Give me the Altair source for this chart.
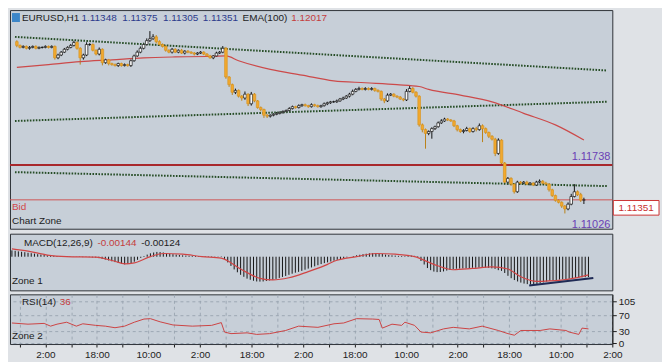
import json
import altair as alt
import pandas as pd

# ---------------- data ----------------
first_open = 1.13110
closes = [
    1.13068, 1.13046, 1.13057, 1.13036, 1.13046, 1.13057, 1.13036, 1.13046, 1.13046, 1.13057,
    1.13046, 1.13057, 1.12930, 1.12961, 1.12993, 1.13025, 1.13046, 1.13068, 1.13100, 1.13036,
    1.12930, 1.12961, 1.13078, 1.13078, 1.13014, 1.12972, 1.13025, 1.12876, 1.12908, 1.12866,
    1.12855, 1.12844, 1.12866, 1.12844, 1.12855, 1.12844, 1.12898, 1.12951, 1.12993, 1.13036,
    1.13078, 1.13121, 1.13142, 1.13163, 1.13110, 1.13078, 1.13057, 1.13014, 1.12993, 1.13025,
    1.12993, 1.13014, 1.12983, 1.13004, 1.12993, 1.12983, 1.12972, 1.12983, 1.12993, 1.12972,
    1.12951, 1.12930, 1.12951, 1.12983, 1.12993, 1.13036, 1.12717, 1.12632, 1.12547, 1.12568,
    1.12504, 1.12483, 1.12526, 1.12419, 1.12526, 1.12451, 1.12377, 1.12355, 1.12292, 1.12281,
    1.12292, 1.12302, 1.12313, 1.12324, 1.12334, 1.12345, 1.12366, 1.12387, 1.12377, 1.12398,
    1.12409, 1.12398, 1.12387, 1.12409, 1.12398, 1.12387, 1.12398, 1.12419, 1.12430, 1.12441,
    1.12441, 1.12451, 1.12472, 1.12483, 1.12504, 1.12526, 1.12557, 1.12579, 1.12589, 1.12579,
    1.12589, 1.12579, 1.12589, 1.12568, 1.12557, 1.12472, 1.12451, 1.12515, 1.12526, 1.12504,
    1.12494, 1.12472, 1.12462, 1.12557, 1.12589, 1.12547, 1.12504, 1.12185, 1.12132, 1.12090,
    1.12111, 1.12143, 1.12164, 1.12207, 1.12228, 1.12249, 1.12239, 1.12228, 1.12175, 1.12132,
    1.12111, 1.12122, 1.12143, 1.12111, 1.12143, 1.12132, 1.12175, 1.12143, 1.12100, 1.12058,
    1.12026, 1.11867, 1.12015, 1.11760, 1.11548, 1.11590, 1.11526, 1.11441, 1.11548, 1.11537,
    1.11548, 1.11526, 1.11537, 1.11516, 1.11548, 1.11558, 1.11537, 1.11526, 1.11463, 1.11399,
    1.11346, 1.11324, 1.11282, 1.11250, 1.11303, 1.11388, 1.11441, 1.11409, 1.11348, 1.11351,
]
# wick lengths above / below the body, in points (0.00001)
wick_up = [
    15, 10, 12, 10, 15, 10, 12, 10, 10, 12,
    10, 12, 10, 15, 12, 15, 12, 15, 20, 15,
    12, 15, 25, 15, 12, 10, 20, 10, 12, 10,
    10, 12, 10, 10, 12, 10, 15, 15, 20, 20,
    20, 25, 85, 30, 20, 15, 12, 15, 10, 15,
    12, 10, 15, 10, 12, 10, 12, 10, 12, 10,
    10, 12, 10, 15, 12, 25, 15, 10, 12, 20,
    10, 12, 30, 10, 25, 12, 10, 12, 10, 15,
    10, 12, 15, 10, 12, 10, 15, 12, 10, 15,
    10, 12, 10, 15, 10, 12, 10, 15, 12, 10,
    12, 15, 12, 15, 12, 15, 20, 15, 20, 12,
    15, 12, 15, 10, 12, 10, 12, 20, 12, 10,
    10, 12, 10, 25, 30, 15, 12, 10, 15, 12,
    12, 15, 12, 15, 20, 15, 12, 10, 12, 10,
    12, 15, 20, 12, 15, 20, 25, 15, 12, 10,
    12, 15, 20, 10, 12, 15, 12, 10, 15, 12,
    12, 15, 12, 10, 15, 20, 12, 15, 10, 12,
    10, 12, 10, 12, 20, 30, 85, 15, 20, 24,
]
wick_dn = [
    20, 12, 10, 12, 15, 10, 12, 10, 12, 10,
    12, 10, 20, 15, 12, 10, 12, 10, 12, 15,
    75, 20, 12, 15, 12, 15, 15, 30, 12, 20,
    12, 10, 15, 12, 10, 12, 15, 12, 10, 12,
    12, 10, 15, 12, 20, 15, 12, 15, 12, 15,
    10, 12, 10, 15, 12, 10, 15, 12, 10, 12,
    12, 10, 15, 12, 10, 12, 20, 25, 30, 20,
    15, 30, 20, 25, 20, 15, 12, 20, 30, 20,
    15, 12, 10, 12, 15, 10, 12, 10, 12, 10,
    12, 10, 12, 10, 12, 10, 12, 10, 15, 12,
    10, 12, 10, 12, 10, 15, 12, 10, 12, 10,
    12, 10, 12, 15, 12, 20, 25, 12, 10, 12,
    12, 10, 15, 12, 10, 12, 15, 20, 30, 170,
    20, 80, 15, 10, 12, 10, 12, 10, 15, 20,
    15, 20, 10, 15, 12, 20, 12, 150, 15, 20,
    15, 30, 15, 20, 25, 30, 20, 20, 12, 15,
    12, 10, 15, 12, 10, 12, 15, 10, 20, 15,
    15, 12, 20, 50, 15, 12, 10, 15, 20, 43,
]

ema_idx = [0, 10, 20, 30, 40, 50, 60, 66, 70, 80, 90, 100, 110, 120, 127, 130, 140, 150, 160, 170, 179]
ema_val = [1.12823, 1.12855, 1.12887, 1.12908, 1.12930, 1.12940, 1.12945, 1.12951, 1.12898, 1.12802,
           1.12738, 1.12674, 1.12653, 1.12632, 1.12611, 1.12579, 1.12515, 1.12441, 1.12313, 1.12185, 1.12017]

# trend lines drawn on the chart: (start index, start price, end index, end price)
trend_names = ["upper", "middle", "lower"]
trend_x0 = [-0.6, -0.6, -0.6]
trend_p0 = [1.13163, 1.12228, 1.11659]
trend_x1 = [186.4, 186.4, 186.4]
trend_p1 = [1.12789, 1.12442, 1.11504]

resistance = 1.11738
bid = 1.11351
low_mark = 1.11026

# MACD main (histogram), in points (0.00001)
macd_hist = [
    45, 42, 38, 35, 32, 28, 25, 22, 18, 15,
    12, 10, 8, 6, 5, 4, 3, 2, 2, 1,
    -1, -2, -3, -2, -3, -5, -6, -10, -15, -20,
    -26, -32, -38, -44, -50, -54, -52, -45, -35, -22,
    -8, 5, 15, 24, 30, 34, 33, 30, 26, 22,
    18, 15, 12, 10, 8, 7, 6, 5, 5, 4,
    4, 3, 3, 2, 2, 3, -15, -40, -65, -90,
    -110, -128, -142, -155, -163, -170, -175, -176, -175, -172,
    -168, -163, -157, -150, -143, -136, -128, -120, -113, -107,
    -100, -92, -84, -76, -68, -60, -52, -45, -40, -34,
    -28, -22, -16, -10, -5, 0, 5, 10, 14, 18,
    21, 24, 26, 26, 25, 20, 15, 12, 10, 8,
    6, 5, 4, 6, 8, 6, 4, -30, -55, -80,
    -95, -105, -109, -108, -104, -98, -92, -88, -85, -84,
    -83, -82, -80, -78, -78, -77, -76, -77, -79, -82,
    -86, -95, -100, -115, -135, -152, -165, -175, -183, -190,
    -194, -197, -196, -193, -188, -182, -176, -170, -167, -165,
    -162, -160, -158, -156, -153, -150, -148, -146, -145, -144,
]
signal_idx = [0, 5, 11, 17, 26, 32, 35, 38, 43, 47, 53, 59, 65, 71, 77, 81, 86, 92, 98, 100,
              107, 113, 119, 125, 131, 137, 143, 149, 154, 158, 163, 167, 173, 179]
signal_val = [0.00056, 0.00040, 0.00012, 0.00001, -0.00003, -0.00032, -0.00050, -0.00043, 0.00001, 0.00023,
              0.00018, 0.00001, -0.00010, -0.00087, -0.00153, -0.00164, -0.00149, -0.00105, -0.00054, -0.00032,
              0.00001, 0.00023, 0.00018, 0.00001, -0.00054, -0.00092, -0.00083, -0.00072, -0.00087, -0.00142,
              -0.00175, -0.00171, -0.00158, -0.00128]
macd_line_x = [160.6, 180.5]
macd_line_v = [-0.00204, -0.00150]

rsi_idx = [0, 5, 10, 12, 14, 17, 20, 22, 26, 29, 32, 35, 38, 41, 43, 46, 50, 56, 62, 65,
           66, 68, 73, 76, 80, 85, 89, 95, 100, 103, 107, 112, 114, 115, 118, 121, 122, 125, 127, 130,
           134, 137, 142, 146, 151, 154, 156, 158, 164, 167, 172, 173, 176, 177, 179]
rsi_val = [51, 48, 50, 43, 48, 53, 43, 49, 45, 43, 39, 43, 53, 61, 62, 54, 46, 43, 45, 52,
           28, 24, 26, 22, 24, 32, 43, 40, 49, 51, 62, 61, 60, 38, 48, 45, 53, 45, 28, 26,
           36, 40, 36, 43, 32, 24, 20, 32, 32, 36, 32, 28, 22, 38, 36]

time_labels = ["2:00", "18:00", "10:00", "2:00", "18:00", "2:00",
               "18:00", "10:00", "2:00", "18:00", "10:00", "2:00"]
price_ticks = [1.13337, 1.13040, 1.12760, 1.12480, 1.12200, 1.11920, 1.11640, 1.11360, 1.11070]
macd_ticks = [0.00078, -0.00201]
rsi_ticks = [105, 70, 30, 0]

# ---------------- tables ----------------
opens = [first_open] + closes[:-1]
highs = [max(o, c) + u * 1e-5 for o, c, u in zip(opens, closes, wick_up)]
lows = [min(o, c) - d * 1e-5 for o, c, d in zip(opens, closes, wick_dn)]
candles = pd.DataFrame({
    "i": list(range(len(closes))),
    "o": opens, "c": closes, "h": highs, "l": lows,
    "dir": ["up" if c >= o else "down" for o, c in zip(opens, closes)],
})
ema_df = pd.DataFrame({"i": ema_idx, "v": ema_val})
trend_df = pd.DataFrame({"name": trend_names * 2,
                         "i": trend_x0 + trend_x1,
                         "p": trend_p0 + trend_p1})
hist_df = pd.DataFrame({"i": list(range(len(macd_hist))), "v": [h * 1e-5 for h in macd_hist]})
sig_df = pd.DataFrame({"i": signal_idx, "v": signal_val})
mline_df = pd.DataFrame({"i": macd_line_x, "v": macd_line_v})
rsi_df = pd.DataFrame({"i": rsi_idx, "v": rsi_val})
one = pd.DataFrame({"a": [0]})

# ---------------- layout ----------------
W = 606
H1, H2, H3 = 220, 57, 50
FONT = "Liberation Sans"
FS = 10
DARK = "#1c1c1c"
BLUE = "#2b3a8c"
RED = "#c43c3c"
PURPLE = "#6a40b5"

xgrid = [round(2.4 + 8 * k, 1) for k in range(24)]
xdom = [-0.6, 186.4]
label_expr = ("(round((datum.value - 2.4) / 8) % 2 == 1) ? " + json.dumps(time_labels) +
              "[floor(round((datum.value - 2.4) / 8) / 2)] : ''")

def xenc(show_labels=False):
    if show_labels:
        ax = alt.Axis(values=xgrid, labelExpr=label_expr, labelOverlap=False, labelFlush=False,
                      ticks=True, tickSize=3, domain=False, grid=True, labelPadding=3, title=None)
    else:
        ax = alt.Axis(values=xgrid, labels=False, ticks=False, domain=False, grid=True, title=None)
    return alt.X("i:Q", scale=alt.Scale(domain=xdom, nice=False, zero=False), axis=ax)

xs_plain = alt.X("i:Q", scale=alt.Scale(domain=xdom, nice=False, zero=False), axis=None)

pscale = alt.Scale(domain=[1.11030, 1.13461], nice=False, zero=False)
mscale = alt.Scale(domain=[-0.00238, 0.00163], nice=False, zero=False)
rscale = alt.Scale(domain=[-2.4, 123.8], nice=False, zero=False)

def txt(text, x, y, color=DARK, align="left", size=FS, baseline="middle"):
    return alt.Chart(one).mark_text(text=text, align=align, baseline=baseline, font=FONT,
                                    fontSize=size, color=color).encode(
        x=alt.value(x), y=alt.value(y))

# ---- main price panel ----
wicks = alt.Chart(candles).mark_rule(strokeWidth=1).encode(
    x=xenc(False),
    y=alt.Y("l:Q", scale=pscale,
            axis=alt.Axis(orient="right", values=price_ticks, format=".5f", title=None, grid=True,
                          labelFlush=False, tickSize=4)),
    y2="h:Q",
    color=alt.Color("dir:N", scale=alt.Scale(domain=["up", "down"], range=["#141414", "#b98119"]),
                    legend=None),
)
bodies = alt.Chart(candles).mark_bar(size=2.6, strokeWidth=0.7).encode(
    x=xs_plain,
    y=alt.Y("o:Q", scale=pscale, axis=None),
    y2="c:Q",
    fill=alt.Fill("dir:N", scale=alt.Scale(domain=["up", "down"], range=["#f7f7f7", "#f2a92e"]),
                  legend=None),
    stroke=alt.Stroke("dir:N", scale=alt.Scale(domain=["up", "down"], range=["#141414", "#d9941f"]),
                      legend=None),
)
ema = alt.Chart(ema_df).mark_line(color="#cc4a4a", strokeWidth=1.2, interpolate="monotone").encode(
    x=xs_plain, y=alt.Y("v:Q", scale=pscale, axis=None))
trends = alt.Chart(trend_df).mark_line(color="#264d26", strokeWidth=2, strokeDash=[1.6, 1.4]).encode(
    x=xs_plain, y=alt.Y("p:Q", scale=pscale, axis=None), detail="name:N")
res_line = alt.Chart(one).mark_rule(color="#a8282c", strokeWidth=2).encode(
    y=alt.Y(datum=resistance, scale=pscale, axis=None))
bid_line = alt.Chart(one).mark_rule(color="#d05555", strokeWidth=1).encode(
    y=alt.Y(datum=bid, scale=pscale, axis=None))
res_text = alt.Chart(one).mark_text(text="1.11738", align="right", baseline="bottom", dy=-3,
                                    font=FONT, fontSize=FS + 1, color=PURPLE).encode(
    x=alt.value(W - 2), y=alt.Y(datum=resistance, scale=pscale, axis=None))
low_text = alt.Chart(one).mark_text(text="1.11026", align="right", baseline="bottom", dy=1,
                                    font=FONT, fontSize=FS + 1, color=PURPLE).encode(
    x=alt.value(W - 2), y=alt.Y(datum=low_mark, scale=pscale, axis=None))
bid_text_left = alt.Chart(one).mark_text(text="Bid", align="left", baseline="top", dy=2,
                                         font=FONT, fontSize=FS, color="#d04848").encode(
    x=alt.value(2), y=alt.Y(datum=bid, scale=pscale, axis=None))
bid_box = alt.Chart(one).mark_point(shape="M-1,-0.32L1,-0.32L1,0.32L-1,0.32Z", size=2116,
                                    filled=True, fill="#ffffff", stroke="#cc3333", strokeWidth=1,
                                    opacity=1, yOffset=8).encode(
    x=alt.value(W + 24), y=alt.Y(datum=bid, scale=pscale, axis=None))
bid_box_text = alt.Chart(one).mark_text(text="1.11351", align="center", baseline="middle", dy=8,
                                        font=FONT, fontSize=FS, color="#c82e2e").encode(
    x=alt.value(W + 24), y=alt.Y(datum=bid, scale=pscale, axis=None))
icon = alt.Chart(one).mark_rect(color="#3c86c8").encode(
    x=alt.value(2), x2=alt.value(10), y=alt.value(3), y2=alt.value(12))

main = alt.layer(
    wicks, trends, ema, res_line, bid_line, bodies,
    res_text, low_text, bid_text_left, bid_box, bid_box_text, icon,
    txt("EURUSD,H1", 12, 8), txt("1.11348", 72, 8, BLUE), txt("1.11375", 113, 8, BLUE),
    txt("1.11305", 154, 8, BLUE), txt("1.11351", 194, 8, BLUE), txt("EMA(100)", 234, 8),
    txt("1.12017", 283, 8, RED), txt("Chart Zone", 2, H1 - 8),
).properties(width=W, height=H1)

# ---- MACD panel ----
hist = alt.Chart(hist_df).mark_rule(color="#151515", strokeWidth=1).encode(
    x=xenc(False),
    y=alt.Y("v:Q", scale=mscale,
            axis=alt.Axis(orient="right", values=macd_ticks, format=".5f", title=None, grid=True,
                          labelFlush=False, tickSize=4)),
    y2=alt.Y2(datum=0),
)
sig = alt.Chart(sig_df).mark_line(color="#d04545", strokeWidth=1.2, interpolate="monotone").encode(
    x=xs_plain, y=alt.Y("v:Q", scale=mscale, axis=None))
mline = alt.Chart(mline_df).mark_line(color="#1e2a55", strokeWidth=2).encode(
    x=xs_plain, y=alt.Y("v:Q", scale=mscale, axis=None))
macd = alt.layer(
    hist, sig, mline,
    txt("MACD(12,26,9)", 14, 9), txt("-0.00144", 88, 9, RED), txt("-0.00124", 132, 9),
    txt("Zone 1", 2, H2 - 9),
).properties(width=W, height=H2)

# ---- RSI panel ----
rsi_line = alt.Chart(rsi_df).mark_line(color="#cc4444", strokeWidth=1).encode(
    x=xenc(True),
    y=alt.Y("v:Q", scale=rscale,
            axis=alt.Axis(orient="right", values=rsi_ticks, format="d", title=None, grid=True,
                          labelFlush=False, tickSize=4)),
)
rsi = alt.layer(
    rsi_line,
    txt("RSI(14)", 12, 8), txt("36", 50, 8, RED), txt("Zone 2", 2, H3 - 8),
).properties(width=W, height=H3)

chart = alt.vconcat(main, macd, rsi, spacing=2).configure(
    background="#dfe2e6",
    padding={"left": 0, "top": 0, "right": 0, "bottom": 0},
).configure_view(
    fill="#c7cfd8", stroke="#2f3338", strokeWidth=1,
).configure_axis(
    labelFont=FONT, labelFontSize=FS, labelColor=DARK, tickColor=DARK, domainColor=DARK,
    gridColor="#98a3b0", gridDash=[3, 3], gridWidth=1, gridOpacity=0.9,
)

chart.save("out.html", embed_options={"renderer": "svg", "actions": False})
